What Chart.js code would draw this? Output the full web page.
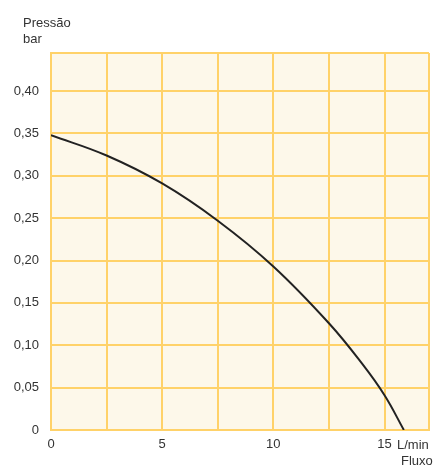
<!DOCTYPE html>
<html>
<head>
<meta charset="utf-8">
<script src="https://cdn.jsdelivr.net/npm/chart.js@4.4.0/dist/chart.umd.min.js"></script>
<style>
  html, body { margin: 0; padding: 0; background: #fff; }
  #wrap { width: 437px; height: 467px; }
</style>
</head>
<body>
<div id="wrap"><canvas id="myChart" width="437" height="467"></canvas></div>
<script>
// ---- data ----
const flow = [0, 2.5, 5, 7.5, 10, 12.5, 14, 15, 15.87];
const pressure = [0.348, 0.324, 0.291, 0.247, 0.193, 0.126, 0.078, 0.041, 0];

const xGrid = [0, 2.5, 5, 7.5, 10, 12.5, 15, 17];
const xLabels = [0, 5, 10, 15];
const yGrid = [0, 0.05, 0.1, 0.15, 0.2, 0.25, 0.3, 0.35, 0.4, 0.445];
const yLabels = [0, 0.05, 0.1, 0.15, 0.2, 0.25, 0.3, 0.35, 0.4];

const gridColor = "rgb(255, 210, 105)";
const textColor = "#333";
const font = "Liberation Sans, Arial, sans-serif";

// fundo creme + textos extra (eixos)
const extras = {
  id: "extras",
  beforeDraw(chart) {
    const { ctx, chartArea } = chart;
    ctx.save();
    ctx.fillStyle = "rgb(253, 248, 234)";
    ctx.fillRect(chartArea.left, chartArea.top, chartArea.right - chartArea.left, chartArea.bottom - chartArea.top);
    ctx.restore();
  },
  afterDraw(chart) {
    const ctx = chart.ctx;
    ctx.save();
    ctx.fillStyle = textColor;
    ctx.font = "13px " + font;
    ctx.textBaseline = "middle";
    ctx.textAlign = "left";
    ctx.fillText("Pressão", 23, 23);
    ctx.fillText("bar", 23, 39);
    ctx.fillText("L/min", 397, 445);
    ctx.fillText("Fluxo", 401, 461);
    ctx.restore();
  },
};

const ctx = document.getElementById("myChart").getContext("2d");

const myChart = new Chart(ctx, {
  type: "scatter",
  data: {
    datasets: [
      {
        data: flow.map((x, i) => ({ x: x, y: pressure[i] })),
        showLine: true,
        borderColor: "#222",
        borderWidth: 2,
        pointRadius: 0,
        tension: 0.4,
      },
    ],
  },
  options: {
    responsive: false,
    animation: false,
    layout: { padding: { top: 53, right: 8, left: 0, bottom: 0 } },
    plugins: { legend: { display: false }, tooltip: { enabled: false } },
    scales: {
      x: {
        type: "linear",
        min: 0,
        max: 17,
        afterBuildTicks: (scale) => {
          scale.ticks = xGrid.map((v) => ({ value: v }));
        },
        afterFit: (scale) => {
          scale.height = 37;
        },
        ticks: {
          autoSkip: false,
          maxRotation: 0,
          padding: 7,
          color: textColor,
          font: { size: 13, family: font },
          callback: (v) => (xLabels.includes(v) ? String(v) : ""),
        },
        grid: { color: gridColor, lineWidth: 2, drawTicks: false },
        border: { color: gridColor, width: 2 },
      },
      y: {
        min: 0,
        max: 0.445,
        afterBuildTicks: (scale) => {
          scale.ticks = yGrid.map((v) => ({ value: v }));
        },
        afterFit: (scale) => {
          scale.width = 51;
        },
        ticks: {
          autoSkip: false,
          padding: 12,
          color: textColor,
          font: { size: 13, family: font },
          callback: (v) => {
            if (!yLabels.some((l) => Math.abs(l - v) < 1e-9)) return "";
            if (v === 0) return "0";
            return v.toFixed(2).replace(".", ",");
          },
        },
        grid: { color: gridColor, lineWidth: 2, drawTicks: false },
        border: { color: gridColor, width: 2 },
      },
    },
  },
  plugins: [extras],
});
</script>
</body>
</html>
